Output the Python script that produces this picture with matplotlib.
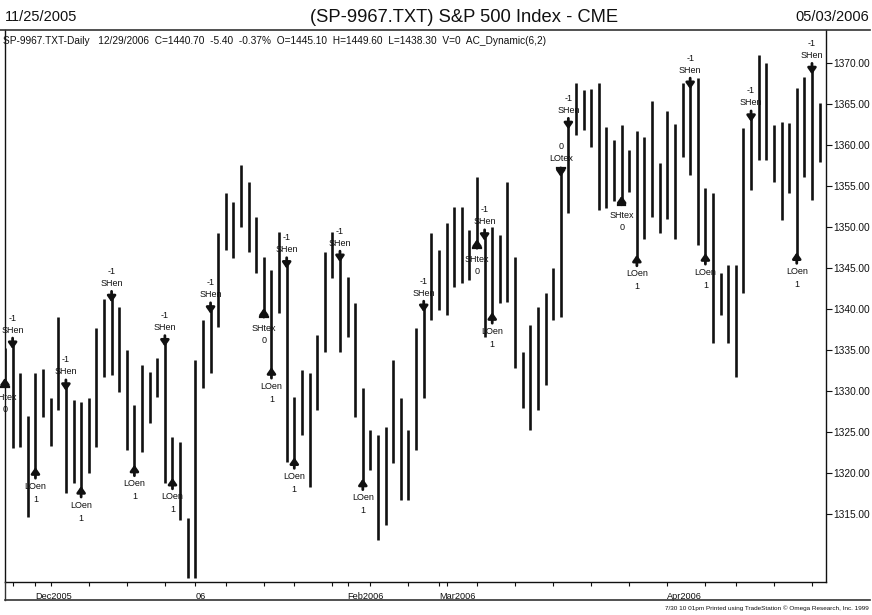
"""S&P 500 daily bars with AC_Dynamic(6,2) entry / exit signals."""

import matplotlib
matplotlib.use("Agg")
import matplotlib.pyplot as plt
from matplotlib.lines import Line2D

plt.rcParams['font.family'] = ['Liberation Sans', 'DejaVu Sans']

# daily highs and lows, 11/25/2005 .. 05/03/2006
highs = [1335.25, 1335.6, 1332.2, 1327.0, 1332.2, 1332.7, 1329.1, 1339.0, 1330.5, 1328.9,
         1328.7, 1329.1, 1337.7, 1341.2, 1341.3, 1340.2, 1335.0, 1328.3, 1333.2, 1332.3,
         1334.0, 1335.9, 1324.4, 1323.8, 1314.5, 1333.8, 1338.7, 1339.9, 1349.3, 1354.1,
         1353.0, 1357.6, 1355.5, 1351.2, 1346.3, 1344.8, 1349.4, 1345.4, 1329.3, 1332.6,
         1332.2, 1336.8, 1347.0, 1349.4, 1346.2, 1343.9, 1340.7, 1330.4, 1325.2, 1324.6,
         1325.6, 1333.8, 1329.1, 1325.2, 1337.7, 1340.1, 1349.3, 1347.2, 1350.5, 1352.4,
         1352.4, 1349.6, 1356.1, 1348.8, 1350.0, 1349.0, 1355.5, 1346.3, 1334.8, 1338.0,
         1340.2, 1342.0, 1345.0, 1356.6, 1362.4, 1367.6, 1366.7, 1366.8, 1367.6, 1362.2,
         1360.6, 1362.4, 1359.4, 1361.7, 1361.0, 1365.4, 1357.8, 1364.1, 1362.6, 1367.6,
         1367.3, 1368.2, 1354.8, 1354.1, 1344.4, 1345.4, 1345.4, 1362.1, 1363.3, 1371.0,
         1370.0, 1362.4, 1362.8, 1362.7, 1367.0, 1368.3, 1369.1, 1365.1]
lows = [1331.0, 1323.0, 1323.2, 1314.6, 1320.1, 1326.8, 1323.3, 1327.7, 1317.6, 1318.8,
        1317.8, 1320.0, 1323.2, 1331.7, 1332.0, 1329.9, 1322.8, 1320.4, 1322.6, 1326.1,
        1329.3, 1318.8, 1318.8, 1314.3, 1307.2, 1307.2, 1330.4, 1332.2, 1337.8, 1347.2,
        1346.2, 1350.0, 1347.0, 1344.4, 1339.5, 1332.3, 1339.5, 1321.3, 1321.3, 1324.6,
        1318.3, 1327.7, 1334.8, 1343.8, 1334.8, 1336.6, 1326.8, 1318.7, 1320.4, 1311.8,
        1313.7, 1321.2, 1316.7, 1316.7, 1322.8, 1329.1, 1338.7, 1339.9, 1339.3, 1342.7,
        1343.2, 1343.5, 1347.9, 1336.6, 1339.0, 1340.7, 1340.9, 1332.8, 1327.9, 1325.2,
        1327.7, 1330.7, 1338.7, 1339.0, 1351.7, 1361.2, 1361.8, 1359.8, 1352.1, 1352.3,
        1353.2, 1353.2, 1354.3, 1346.0, 1348.5, 1351.2, 1349.3, 1351.0, 1348.5, 1358.5,
        1356.3, 1347.8, 1346.2, 1335.9, 1339.3, 1335.9, 1331.7, 1342.0, 1354.5, 1358.2,
        1358.2, 1355.5, 1350.9, 1354.1, 1346.3, 1356.1, 1353.3, 1357.9]

# bars carrying a signal
short_entries = [1, 8, 14, 21, 27, 37, 44, 55, 63, 74, 90, 98, 106]
long_entries = [4, 10, 17, 22, 35, 38, 47, 64, 83, 92, 104]
short_exits = [0, 34, 62, 81]
long_exits = [73]

month_labels = ["Dec2005", "06", "Feb2006", "Mar2006", "Apr2006"]
month_pos = [4, 25, 45, 57, 87]
week_pos = [1, 6, 11, 16, 21, 29, 34, 38, 43, 48, 53, 58, 62, 67, 72, 77, 82, 92, 96, 101, 106]
price_ticks = [1315, 1320, 1325, 1330, 1335, 1340, 1345, 1350, 1355, 1360, 1365, 1370]

PT = 0.72          # points per pixel at 100 dpi
PPX = 1 / 8.2      # price units per pixel
INK = '#111111'
LABEL_FS = 6.5


def arrow(ax, x, y_from, y_to):
    ax.annotate('', xy=(x, y_to), xytext=(x, y_from),
                arrowprops=dict(arrowstyle='-|>,head_length=0.5,head_width=0.35',
                                lw=2.0, color=INK, shrinkA=0, shrinkB=0,
                                mutation_scale=7))


def label(ax, x, y, text, dy_px):
    ax.annotate(text, xy=(x, y), xytext=(0, dy_px * PT), textcoords='offset points',
                ha='center', va='center', fontsize=LABEL_FS, color=INK,
                annotation_clip=False)


def mark_short_entry(ax, i):
    arrow(ax, i, highs[i] + 7 * PPX, highs[i] - 4 * PPX)
    label(ax, i, highs[i], "SHen", 15)
    label(ax, i, highs[i], "-1", 27)


def mark_long_entry(ax, i):
    arrow(ax, i, lows[i] - 6 * PPX, lows[i] + 5 * PPX)
    label(ax, i, lows[i], "LOen", -14)
    label(ax, i, lows[i], "1", -27)


def mark_short_exit(ax, i):
    base = lows[i] - 4 * PPX
    arrow(ax, i, base, lows[i] + 5 * PPX)
    ax.plot([i - 0.5, i + 0.5], [base, base], color=INK, lw=1.6, clip_on=False)
    label(ax, i, lows[i], "SHtex", -15)
    label(ax, i, lows[i], "0", -27)


def mark_long_exit(ax, i):
    top = highs[i] + 5 * PPX
    arrow(ax, i, top, highs[i] - 4 * PPX)
    ax.plot([i - 0.5, i + 0.5], [top, top], color=INK, lw=1.6)
    label(ax, i, highs[i], "LOtex", 14)
    label(ax, i, highs[i], "0", 26)


W, H = 872, 615
fig = plt.figure(figsize=(W / 100, H / 100), dpi=100)
ax = fig.add_axes([5 / W, 33 / H, 821 / W, 552 / H])

x = list(range(len(highs)))
ax.vlines(x, lows, highs, color=INK, lw=1.9)

for i in short_entries:
    mark_short_entry(ax, i)
for i in long_entries:
    mark_long_entry(ax, i)
for i in short_exits:
    mark_short_exit(ax, i)
for i in long_exits:
    mark_long_exit(ax, i)

ax.set_xlim(0, 821 / 7.613)
ax.set_ylim(1370 - 519 * PPX, 1370 + 33 * PPX)

ax.yaxis.tick_right()
ax.set_yticks(price_ticks)
ax.set_yticklabels(['%.2f' % p for p in price_ticks])
ax.tick_params(axis='y', direction='out', length=4, width=0.8, labelsize=7.3, pad=1.5,
               colors=INK)
ax.set_xticks(month_pos + week_pos)
ax.set_xticklabels([])
ax.tick_params(axis='x', direction='out', length=3, width=0.8, colors=INK)

for name, pos in zip(month_labels, month_pos):
    ax.text(pos, -0.018, name, transform=ax.get_xaxis_transform(), ha='left', va='top',
            fontsize=6.6, color=INK)

ax.spines['top'].set_visible(False)
for side in ['left', 'right', 'bottom']:
    ax.spines[side].set_linewidth(1.0)
    ax.spines[side].set_color(INK)

# header / footer rules
fig.add_artist(Line2D([0, 870 / W], [1 - 30 / H, 1 - 30 / H], color='#333333', lw=1.2))
fig.add_artist(Line2D([5 / W, 870 / W], [15 / H, 15 / H], color='#333333', lw=1.2))
fig.add_artist(Line2D([5 / W, 5 / W], [15 / H, 33 / H], color='#333333', lw=1.0))

fig.text(5 / W, 1 - 17 / H, "11/25/2005", fontsize=10.5, ha='left', va='center', color=INK)
fig.text(464 / W, 1 - 17 / H, "(SP-9967.TXT) S&P 500 Index - CME", fontsize=13.2,
         ha='center', va='center', color=INK)
fig.text(869 / W, 1 - 17 / H, "05/03/2006", fontsize=10.5, ha='right', va='center', color=INK)
fig.text(3 / W, 1 - 41 / H,
         "SP-9967.TXT-Daily   12/29/2006  C=1440.70  -5.40  -0.37%  O=1445.10  "
         "H=1449.60  L=1438.30  V=0  AC_Dynamic(6,2)",
         fontsize=7.3, ha='left', va='center', color=INK)
fig.text(869 / W, 1 - 608 / H,
         "7/30 10 01pm Printed using TradeStation \u00a9 Omega Research, Inc. 1999",
         fontsize=4.6, ha='right', va='center', color=INK)

fig.savefig("out.png", dpi=100)
